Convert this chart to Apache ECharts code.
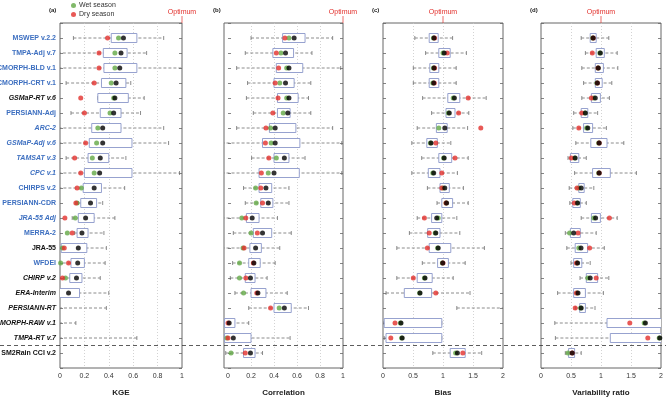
<!DOCTYPE html>
<html>
<head>
<meta charset="utf-8">
<script src="https://cdn.jsdelivr.net/npm/echarts@6/dist/echarts.min.js"></script>
<style>
  html, body { margin: 0; padding: 0; background: #fff; }
  #main { width: 666px; height: 417px; }
</style>
</head>
<body>
<div id="main"></div>
<script>
// products, top to bottom
const products = ['MSWEP v.2.2', 'TMPA-Adj v.7', 'CMORPH-BLD v.1', 'CMORPH-CRT v.1', 'GSMaP-RT v.6',
  'PERSIANN-Adj', 'ARC-2', 'GSMaP-Adj v.6', 'TAMSAT v.3', 'CPC v.1', 'CHIRPS v.2', 'PERSIANN-CDR',
  'JRA-55 Adj', 'MERRA-2', 'JRA-55', 'WFDEI', 'CHIRP v.2', 'ERA-Interim', 'PERSIANN-RT',
  'CMORPH-RAW v.1', 'TMPA-RT v.7', 'SM2Rain CCI v.2']
// b = blue, bi = blue italic, k = black, ki = black italic
const productStyle = ['b', 'b', 'b', 'b', 'ki', 'b', 'bi', 'bi', 'bi', 'bi', 'b', 'b', 'bi', 'b', 'k', 'b',
  'ki', 'ki', 'ki', 'ki', 'ki', 'k']

// (a) KGE
const kgeMin = [0.11, -0.1, -0.3, 0.05, 0.31, 0.09, -0.3, -0.3, 0.05, -0.3, -0.3, 0.15, 0.1, 0.12, -0.2, -0.1, -0.1, -0.3, -0.5, -0.5, -0.5, -0.8]
const kgeQ1 = [0.42, 0.355, 0.36, 0.34, 0.31, 0.33, 0.26, 0.24, 0.23, 0.20, 0.19, 0.17, 0.15, 0.14, 0.01, 0.09, 0.08, -0.02, -0.3, -0.3, -0.3, -0.6]
const kgeQ3 = [0.63, 0.55, 0.63, 0.54, 0.56, 0.50, 0.50, 0.59, 0.40, 0.59, 0.34, 0.30, 0.28, 0.23, 0.22, 0.20, 0.18, 0.16, -0.1, -0.1, -0.05, -0.4]
const kgeMax = [0.85, 0.71, 1.1, 0.58, 0.69, 0.66, 0.85, 0.89, 0.54, 0.98, 0.53, 0.35, 0.45, 0.36, 0.38, 0.37, 0.33, 0.40, 0.38, 0.13, 0.63, -0.2]
const kgeAll = [0.52, 0.50, 0.49, 0.46, 0.45, 0.44, 0.35, 0.35, 0.33, 0.325, 0.28, 0.25, 0.21, 0.18, 0.15, 0.145, 0.135, 0.07, -0.2, -0.2, -0.2, -0.5]
const kgeWet = [0.48, 0.45, 0.45, 0.42, 0.44, 0.41, 0.31, 0.30, 0.265, 0.28, 0.175, 0.14, 0.125, 0.06, 0.02, 0.005, 0.045, -0.2, -0.3, -0.3, -0.3, -0.5]
const kgeDry = [0.39, 0.32, 0.32, 0.28, 0.17, 0.20, -0.2, 0.21, 0.12, 0.17, 0.14, 0.13, 0.04, 0.10, 0.035, 0.07, 0.02, -0.2, -0.3, -0.3, -0.3, -0.5]

// (b) Correlation
const corMin = [0.20, 0.15, 0.075, 0.17, 0.16, 0.22, 0.075, -0.1, 0.205, -0.1, 0.135, 0.15, -0.1, 0.046, -0.1, 0.04, 0.02, 0.06, 0.18, -0.1, -0.1, -0.02]
const corQ1 = [0.475, 0.39, 0.42, 0.40, 0.43, 0.43, 0.36, 0.30, 0.40, 0.27, 0.27, 0.285, 0.16, 0.22, 0.19, 0.18, 0.15, 0.20, 0.40, -0.03, -0.03, 0.135]
const corQ3 = [0.67, 0.57, 0.65, 0.575, 0.61, 0.54, 0.59, 0.625, 0.53, 0.62, 0.38, 0.39, 0.27, 0.38, 0.29, 0.28, 0.235, 0.33, 0.55, 0.06, 0.20, 0.235]
const corMax = [0.91, 0.73, 0.98, 0.72, 0.70, 0.72, 0.91, 0.99, 0.67, 0.99, 0.53, 0.53, 0.43, 0.55, 0.45, 0.41, 0.34, 0.515, 0.70, 0.18, 0.54, 0.30]
const corAll = [0.575, 0.50, 0.53, 0.50, 0.53, 0.52, 0.41, 0.41, 0.49, 0.40, 0.33, 0.35, 0.21, 0.30, 0.24, 0.225, 0.195, 0.26, 0.49, 0.01, 0.046, 0.195]
const corWet = [0.53, 0.46, 0.51, 0.45, 0.51, 0.48, 0.37, 0.375, 0.42, 0.35, 0.24, 0.245, 0.12, 0.20, 0.13, 0.10, 0.10, 0.135, 0.445, -0.1, -0.01, 0.026]
const corDry = [0.495, 0.42, 0.44, 0.41, 0.435, 0.39, 0.33, 0.325, 0.355, 0.29, 0.285, 0.30, 0.155, 0.255, 0.14, 0.22, 0.155, 0.25, 0.37, 0.0, 0.0, 0.15]

// (c) Bias
const biasMin = [0.53, 0.71, 0.505, 0.505, 0.66, 0.81, 0.57, 0.48, 0.645, 0.48, 0.74, 0.9, 0.57, 0.44, 0.23, 0.655, 0.23, 0.05, 1.23, 0.0, 0.02, 0.83]
const biasQ1 = [0.77, 0.93, 0.78, 0.77, 1.08, 1.05, 0.89, 0.73, 0.93, 0.755, 0.95, 0.98, 0.81, 0.745, 0.77, 0.91, 0.57, 0.355, 2.3, 0.02, 0.05, 1.12]
const biasQ3 = [0.92, 1.12, 0.93, 0.93, 1.28, 1.20, 1.07, 0.905, 1.145, 0.95, 1.105, 1.16, 0.98, 0.95, 1.13, 1.09, 0.82, 0.81, 2.8, 0.98, 0.98, 1.37]
const biasMax = [1.16, 1.39, 1.22, 1.22, 1.72, 1.43, 1.41, 1.13, 1.42, 1.24, 1.34, 1.42, 1.23, 1.28, 1.69, 1.37, 1.17, 1.45, 3.5, 0.98, 0.98, 1.645]
const biasAll = [0.85, 1.02, 0.85, 0.845, 1.19, 1.105, 1.03, 0.80, 1.02, 0.845, 1.03, 1.06, 0.895, 0.88, 0.92, 0.995, 0.70, 0.617, 2.5, 0.30, 0.32, 1.24]
const biasWet = [0.84, 1.0, 0.84, 0.83, 1.17, 1.09, 0.93, 0.79, 1.01, 0.83, 1.0, 1.05, 0.92, 0.87, 0.91, 0.99, 0.69, 0.61, 2.5, 0.29, 0.31, 1.21]
const biasDry = [0.86, 1.07, 0.86, 0.855, 1.42, 1.26, 1.63, 0.88, 1.20, 0.98, 0.98, 1.05, 0.69, 0.77, 0.74, 1.0, 0.505, 0.88, 2.5, 0.20, 0.13, 1.33]

// (d) Variability ratio
const varMin = [0.67, 0.74, 0.68, 0.71, 0.68, 0.545, 0.53, 0.58, 0.45, 0.56, 0.47, 0.48, 0.67, 0.405, 0.43, 0.5, 0.65, 0.277, 0.57, 0.23, 0.24, 0.405]
const varQ1 = [0.82, 0.92, 0.905, 0.905, 0.84, 0.67, 0.71, 0.83, 0.49, 0.86, 0.63, 0.53, 0.84, 0.49, 0.57, 0.545, 0.755, 0.545, 0.645, 1.1, 1.155, 0.46]
const varQ3 = [0.92, 1.055, 1.04, 1.02, 0.99, 0.78, 0.86, 1.10, 0.63, 1.155, 0.72, 0.655, 0.99, 0.655, 0.777, 0.68, 0.944, 0.74, 0.74, 2.5, 2.5, 0.56]
const varMax = [1.13, 1.27, 1.28, 1.18, 1.14, 0.944, 1.09, 1.38, 0.755, 1.59, 0.88, 0.755, 1.27, 0.92, 1.055, 0.82, 1.13, 1.04, 0.9, 3.0, 3.0, 0.67]
const varAll = [0.87, 0.99, 0.955, 0.94, 0.905, 0.74, 0.78, 0.97, 0.57, 0.97, 0.67, 0.61, 0.91, 0.545, 0.667, 0.61, 0.82, 0.617, 0.67, 1.74, 1.98, 0.52]
const varWet = [0.86, 0.98, 0.95, 0.93, 0.88, 0.73, 0.76, 0.96, 0.56, 0.96, 0.63, 0.60, 0.88, 0.477, 0.63, 0.60, 0.78, 0.60, 0.66, 1.72, 1.97, 0.45]
const varDry = [0.87, 0.855, 0.95, 0.94, 0.84, 0.68, 0.63, 0.97, 0.505, 0.97, 0.60, 0.555, 1.14, 0.617, 0.81, 0.59, 0.92, 0.59, 0.57, 1.48, 1.78, 0.52]

const ticksUnit = [0, 0.2, 0.4, 0.6, 0.8, 1]
const ticksTwo = [0, 0.5, 1, 1.5, 2]

const FONT = 'Liberation Sans, Arial, sans-serif'
const BLUE = '#3d6fc0'
const RED = '#e2302c'
const GREEN = '#62a845'
const FRAME = '#666'
const GRID_TOP = 23
const GRID_H = 345

const panels = [
  { tag: '(a)', name: 'KGE', left: 60, width: 122, min: 0, max: 1, ticks: ticksUnit, optimum: 1,
    mn: kgeMin, q1: kgeQ1, q3: kgeQ3, mx: kgeMax, all: kgeAll, wet: kgeWet, dry: kgeDry },
  { tag: '(b)', name: 'Correlation', left: 224, width: 119, min: -0.035, max: 1, ticks: ticksUnit, optimum: 1,
    mn: corMin, q1: corQ1, q3: corQ3, mx: corMax, all: corAll, wet: corWet, dry: corDry },
  { tag: '(c)', name: 'Bias', left: 383, width: 120, min: 0, max: 2, ticks: ticksTwo, optimum: 1,
    mn: biasMin, q1: biasQ1, q3: biasQ3, mx: biasMax, all: biasAll, wet: biasWet, dry: biasDry },
  { tag: '(d)', name: 'Variability ratio', left: 541, width: 120, min: 0, max: 2, ticks: ticksTwo, optimum: 1,
    mn: varMin, q1: varQ1, q3: varQ3, mx: varMax, all: varAll, wet: varWet, dry: varDry }
]

function renderBox(params, api) {
  const y = api.value(0)
  const pMin = api.coord([api.value(1), y])
  const pQ1 = api.coord([api.value(2), y])
  const pQ3 = api.coord([api.value(3), y])
  const pMax = api.coord([api.value(4), y])
  const cy = pMin[1]
  const h = 9
  const whisker = { stroke: '#707070', lineWidth: 0.8, lineDash: [3, 2] }
  const cap = { stroke: '#707070', lineWidth: 0.8 }
  return {
    type: 'group',
    children: [
      { type: 'line', shape: { x1: pMin[0], y1: cy, x2: pMax[0], y2: cy }, style: whisker },
      { type: 'line', shape: { x1: pMin[0], y1: cy - 2, x2: pMin[0], y2: cy + 2 }, style: cap },
      { type: 'line', shape: { x1: pMax[0], y1: cy - 2, x2: pMax[0], y2: cy + 2 }, style: cap },
      { type: 'rect', shape: { x: pQ1[0], y: cy - h / 2, width: pQ3[0] - pQ1[0], height: h },
        style: { fill: '#fff', stroke: '#8b97c9', lineWidth: 0.9 } }
    ]
  }
}

const rows = products.map((p, i) => i + 1)
const grids = []
const xAxes = []
const yAxes = []
const series = []

panels.forEach((p, k) => {
  grids.push({
    left: p.left, top: GRID_TOP, width: p.width, height: GRID_H,
    containLabel: false, outerBoundsMode: 'none',
    show: true, borderColor: FRAME, borderWidth: 1, backgroundColor: 'transparent'
  })
  xAxes.push({
    type: 'value', gridIndex: k, min: p.min, max: p.max,
    name: p.name, nameLocation: 'middle', nameGap: 21,
    nameTextStyle: { fontFamily: FONT, fontSize: 8, fontWeight: 'bold', color: '#222' },
    axisLine: { show: false },
    axisTick: { show: false },
    splitLine: { show: false },
    axisLabel: { customValues: p.ticks, fontFamily: FONT, fontSize: 7, color: '#333', margin: 5 }
  })
  const yBase = {
    type: 'value', gridIndex: k, min: 0, max: 23, interval: 1, inverse: true,
    axisLine: { show: false },
    splitLine: { show: false },
    axisTick: { show: true, inside: true, length: 3, lineStyle: { color: FRAME, width: 0.8 } }
  }
  yAxes.push(Object.assign({}, yBase, {
    position: 'left',
    axisLabel: k === 0 ? {
      margin: 4,
      formatter: (v) => {
        const i = Math.round(v) - 1
        if (i < 0 || i >= products.length) return ''
        return '{' + productStyle[i] + '|' + products[i] + '}'
      },
      rich: {
        b: { color: BLUE, fontFamily: FONT, fontSize: 7, fontWeight: 'bold' },
        bi: { color: BLUE, fontFamily: FONT, fontSize: 7, fontWeight: 'bold', fontStyle: 'italic' },
        k: { color: '#111', fontFamily: FONT, fontSize: 7, fontWeight: 'bold' },
        ki: { color: '#111', fontFamily: FONT, fontSize: 7, fontWeight: 'bold', fontStyle: 'italic' }
      }
    } : { show: false }
  }))
  yAxes.push(Object.assign({}, yBase, { position: 'right', axisLabel: { show: false } }))

  const gridValues = p.ticks.filter(t => t > 0 && t < p.max)
  series.push({
    type: 'custom', name: 'box', xAxisIndex: k, yAxisIndex: 2 * k, clip: true, z: 2,
    renderItem: renderBox,
    encode: { x: [1, 2, 3, 4], y: 0 },
    data: rows.map((r, i) => [r, p.mn[i], p.q1[i], p.q3[i], p.mx[i]]),
    markLine: {
      silent: true, symbol: 'none', z: 1, label: { show: false },
      lineStyle: { color: '#c8c8c8', type: [1, 2], width: 0.8 },
      data: gridValues.map(v => ({ xAxis: v }))
    }
  })
  series.push({
    type: 'scatter', name: 'Wet season', xAxisIndex: k, yAxisIndex: 2 * k, z: 3,
    symbolSize: 5, itemStyle: { color: GREEN },
    data: rows.map((r, i) => [p.wet[i], r])
  })
  series.push({
    type: 'scatter', name: 'Dry season', xAxisIndex: k, yAxisIndex: 2 * k, z: 4,
    symbolSize: 5, itemStyle: { color: RED },
    data: rows.map((r, i) => [p.dry[i], r])
  })
  series.push({
    type: 'scatter', name: 'All', xAxisIndex: k, yAxisIndex: 2 * k, z: 5,
    symbolSize: 5, itemStyle: { color: '#000' },
    data: rows.map((r, i) => [p.all[i], r])
  })
})

const chart = echarts.init(document.getElementById('main'), null, { renderer: 'canvas' })
chart.setOption({
  animation: false,
  backgroundColor: '#fff',
  legend: {
    data: ['Wet season', 'Dry season'],
    orient: 'vertical', left: 71, top: 2, padding: 0,
    itemWidth: 5, itemHeight: 5, itemGap: 2, icon: 'circle',
    textStyle: { fontFamily: FONT, fontSize: 7, color: '#333', lineHeight: 7, padding: [0, 0, 0, -2] }
  },
  grid: grids,
  xAxis: xAxes,
  yAxis: yAxes,
  series: series
})

// labels placed through the axes' own scales
const graphics = []
panels.forEach((p, k) => {
  const x = chart.convertToPixel({ xAxisIndex: k }, p.optimum)
  graphics.push({
    type: 'text', x: x, y: 12,
    style: { text: 'Optimum', fill: RED, font: '7px ' + FONT, textAlign: 'center', textVerticalAlign: 'middle' }
  })
  graphics.push({
    type: 'line', shape: { x1: x, y1: 16, x2: x, y2: GRID_TOP },
    style: { stroke: RED, lineWidth: 0.7 }
  })
  graphics.push({
    type: 'text', x: p.left - 11, y: 10,
    style: { text: p.tag, fill: '#222', font: 'bold 6px ' + FONT, textAlign: 'left', textVerticalAlign: 'middle' }
  })
})
const ySep = chart.convertToPixel({ yAxisIndex: 0 }, 21.5)
graphics.push({
  type: 'line', shape: { x1: 0, y1: ySep, x2: 666, y2: ySep },
  style: { stroke: '#333', lineWidth: 0.8, lineDash: [4, 3] }, z: 10
})
chart.setOption({ graphic: graphics })
</script>
</body>
</html>
